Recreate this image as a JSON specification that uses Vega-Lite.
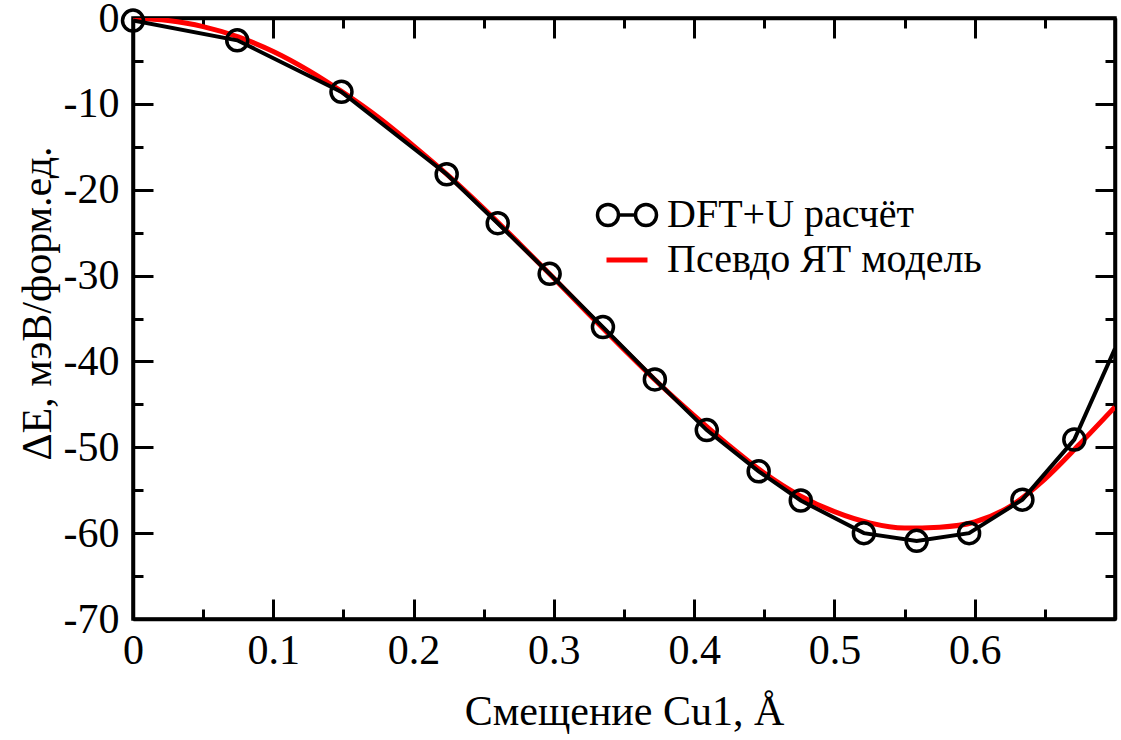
{
  "$schema": "https://vega.github.io/schema/vega-lite/v6.json",
  "width": 982,
  "height": 601,
  "autosize": {"type": "none"},
  "padding": {"left": 133, "top": 18, "right": 6, "bottom": 121},
  "background": "white",
  "datasets": {
    "dft": [
      {"x": 0, "y": -0.3, "series": "DFT+U расчёт"},
      {"x": 0.0743, "y": -2.6, "series": "DFT+U расчёт"},
      {"x": 0.1486, "y": -8.6, "series": "DFT+U расчёт"},
      {"x": 0.2236, "y": -18.2, "series": "DFT+U расчёт"},
      {"x": 0.26, "y": -23.9, "series": "DFT+U расчёт"},
      {"x": 0.297, "y": -29.8, "series": "DFT+U расчёт"},
      {"x": 0.335, "y": -36.0, "series": "DFT+U расчёт"},
      {"x": 0.372, "y": -42.1, "series": "DFT+U расчёт"},
      {"x": 0.409, "y": -48.0, "series": "DFT+U расчёт"},
      {"x": 0.446, "y": -52.8, "series": "DFT+U расчёт"},
      {"x": 0.476, "y": -56.2, "series": "DFT+U расчёт"},
      {"x": 0.521, "y": -60.0, "series": "DFT+U расчёт"},
      {"x": 0.5586, "y": -60.9, "series": "DFT+U расчёт"},
      {"x": 0.596, "y": -60.0, "series": "DFT+U расчёт"},
      {"x": 0.634, "y": -56.1, "series": "DFT+U расчёт"},
      {"x": 0.671, "y": -49.1, "series": "DFT+U расчёт"},
      {"x": 0.7, "y": -38.5, "series": "DFT+U расчёт"}
    ],
    "model": [
      {"x": 0, "y": 0, "series": "Псевдо ЯТ модель"},
      {"x": 0.025, "y": -0.3, "series": "Псевдо ЯТ модель"},
      {"x": 0.05, "y": -1.0, "series": "Псевдо ЯТ модель"},
      {"x": 0.075, "y": -2.2, "series": "Псевдо ЯТ модель"},
      {"x": 0.1, "y": -3.9, "series": "Псевдо ЯТ модель"},
      {"x": 0.125, "y": -6.1, "series": "Псевдо ЯТ модель"},
      {"x": 0.15, "y": -8.7, "series": "Псевдо ЯТ модель"},
      {"x": 0.175, "y": -11.6, "series": "Псевдо ЯТ модель"},
      {"x": 0.2, "y": -14.9, "series": "Псевдо ЯТ модель"},
      {"x": 0.225, "y": -18.4, "series": "Псевдо ЯТ модель"},
      {"x": 0.25, "y": -22.2, "series": "Псевдо ЯТ модель"},
      {"x": 0.275, "y": -26.2, "series": "Псевдо ЯТ модель"},
      {"x": 0.3, "y": -30.3, "series": "Псевдо ЯТ модель"},
      {"x": 0.325, "y": -34.5, "series": "Псевдо ЯТ модель"},
      {"x": 0.35, "y": -38.6, "series": "Псевдо ЯТ модель"},
      {"x": 0.375, "y": -42.6, "series": "Псевдо ЯТ модель"},
      {"x": 0.4, "y": -46.3, "series": "Псевдо ЯТ модель"},
      {"x": 0.425, "y": -49.8, "series": "Псевдо ЯТ модель"},
      {"x": 0.45, "y": -53.0, "series": "Псевдо ЯТ модель"},
      {"x": 0.475, "y": -55.6, "series": "Псевдо ЯТ модель"},
      {"x": 0.5, "y": -57.5, "series": "Псевдо ЯТ модель"},
      {"x": 0.525, "y": -58.8, "series": "Псевдо ЯТ модель"},
      {"x": 0.55, "y": -59.4, "series": "Псевдо ЯТ модель"},
      {"x": 0.575, "y": -59.3, "series": "Псевдо ЯТ модель"},
      {"x": 0.6, "y": -58.7, "series": "Псевдо ЯТ модель"},
      {"x": 0.625, "y": -56.9, "series": "Псевдо ЯТ модель"},
      {"x": 0.65, "y": -53.7, "series": "Псевдо ЯТ модель"},
      {"x": 0.675, "y": -49.6, "series": "Псевдо ЯТ модель"},
      {"x": 0.7, "y": -45.3, "series": "Псевдо ЯТ модель"}
    ]
  },
  "resolve": {"axis": {"x": "independent", "y": "independent"}},
  "layer": [
    {
      "data": {"name": "model"},
      "mark": {"type": "line", "strokeWidth": 5, "interpolate": "monotone", "clip": true},
      "encoding": {
        "x": {"field": "x", "type": "quantitative", "scale": {"domain": [0, 0.7], "nice": false},
          "axis": {
            "orient": "bottom",
            "title": "Смещение Cu1, Å",
            "values": [0, 0.05, 0.1, 0.15, 0.2, 0.25, 0.3, 0.35, 0.4, 0.45, 0.5, 0.55, 0.6, 0.65, 0.7],
            "labelExpr": "indexof(['0','0.1','0.2','0.3','0.4','0.5','0.6'], format(datum.value, '.2~f')) >= 0 ? format(datum.value, '.2~f') : ''",
            "tickSize": {"condition": {"test": "abs(round(datum.value*10) - datum.value*10) < 0.001", "value": -20}, "value": -10},
            "labelPadding": {"condition": {"test": "abs(round(datum.value*10) - datum.value*10) < 0.001", "value": 31}, "value": 21},
            "titlePadding": 20,
            "labelFlush": false,
            "labelOverlap": false
          }
        },
        "y": {"field": "y", "type": "quantitative", "scale": {"domain": [-70, 0], "nice": false},
          "axis": {
            "orient": "left",
            "title": "ΔE, мэВ/форм.ед.",
            "titleFontSize": 42,
            "titleY": 285,
            "values": [-70, -65, -60, -55, -50, -45, -40, -35, -30, -25, -20, -15, -10, -5, 0],
            "labelExpr": "datum.value % 10 === 0 ? '' + datum.value : ''",
            "tickSize": {"condition": {"test": "datum.value % 10 === 0", "value": -20}, "value": -10},
            "labelPadding": {"condition": {"test": "datum.value % 10 === 0", "value": 34}, "value": 24},
            "titlePadding": 4,
            "labelFlush": false,
            "labelOverlap": false
          }
        },
        "color": {"field": "series", "type": "nominal",
          "scale": {"domain": ["DFT+U расчёт", "Псевдо ЯТ модель"], "range": ["black", "#ff0000"]},
          "legend": {
            "title": null,
            "orient": "none",
            "legendX": 474,
            "legendY": 177,
            "labelFont": "Liberation Serif",
            "labelFontSize": 40,
            "labelColor": "black",
            "labelLimit": 0,
            "labelOffset": 20,
            "rowPadding": 5,
            "symbolSize": 400,
            "symbolStrokeWidth": 3.5,
            "encode": {
              "symbols": {
                "update": {
                  "shape": {"signal": "datum.label === 'DFT+U расчёт' ? 'M-2.95,0A1.05,1.05 0 1,0 -0.85,0A1.05,1.05 0 1,0 -2.95,0M-0.85,0L0.85,0M0.85,0A1.05,1.05 0 1,0 2.95,0A1.05,1.05 0 1,0 0.85,0' : 'M-2.05,0L2.05,0'"},
                  "fill": {"value": "transparent"},
                  "strokeWidth": {"signal": "datum.label === 'DFT+U расчёт' ? 3.5 : 5"},
                  "opacity": {"value": 1}
                }
              }
            }
          }
        }
      }
    },
    {
      "data": {"name": "dft"},
      "mark": {"type": "line", "strokeWidth": 4, "clip": true},
      "encoding": {
        "x": {"field": "x", "type": "quantitative", "axis": null},
        "y": {"field": "y", "type": "quantitative", "axis": null},
        "color": {"field": "series", "type": "nominal"}
      }
    },
    {
      "data": {"name": "dft"},
      "transform": [{"filter": "datum.x < 0.69"}],
      "mark": {"type": "point", "shape": "circle", "filled": false, "size": 441, "strokeWidth": 3.5, "opacity": 1},
      "encoding": {
        "x": {"field": "x", "type": "quantitative", "axis": null},
        "y": {"field": "y", "type": "quantitative", "axis": null},
        "color": {"field": "series", "type": "nominal"}
      }
    },
    {
      "data": {"name": "dft"},
      "mark": {"type": "line", "opacity": 0},
      "encoding": {
        "x": {"field": "x", "type": "quantitative",
          "axis": {
            "orient": "top",
            "title": null,
            "labels": false,
            "values": [0, 0.05, 0.1, 0.15, 0.2, 0.25, 0.3, 0.35, 0.4, 0.45, 0.5, 0.55, 0.6, 0.65, 0.7],
            "tickSize": {"condition": {"test": "abs(round(datum.value*10) - datum.value*10) < 0.001", "value": -20}, "value": -10}
          }
        },
        "y": {"field": "y", "type": "quantitative",
          "axis": {
            "orient": "right",
            "title": null,
            "labels": false,
            "values": [-70, -65, -60, -55, -50, -45, -40, -35, -30, -25, -20, -15, -10, -5, 0],
            "tickSize": {"condition": {"test": "datum.value % 10 === 0", "value": -20}, "value": -10}
          }
        }
      }
    }
  ],
  "config": {
    "view": {"stroke": "black", "strokeWidth": 3.5},
    "axis": {
      "grid": false,
      "domainColor": "black",
      "domainWidth": 3.5,
      "tickColor": "black",
      "tickWidth": 3,
      "labelFont": "Liberation Serif",
      "labelFontSize": 42,
      "labelColor": "black",
      "titleFont": "Liberation Serif",
      "titleFontSize": 42,
      "titleFontWeight": "normal",
      "titleColor": "black"
    }
  }
}
